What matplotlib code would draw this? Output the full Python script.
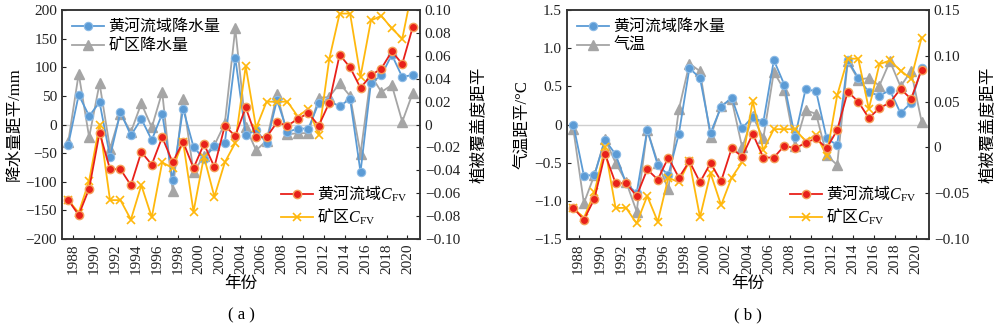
import matplotlib
matplotlib.use("Agg")
import matplotlib.pyplot as plt
import numpy as np
from matplotlib.ticker import FuncFormatter

plt.rcParams["font.family"] = ["Liberation Serif", "Noto Sans CJK SC"]
# mathtext: CJK via \mathrm, C italic serif, FV upright serif via \mathsf
plt.rcParams["mathtext.fontset"] = "custom"
plt.rcParams["mathtext.rm"] = "Noto Sans CJK SC"
plt.rcParams["mathtext.it"] = "Liberation Serif:italic"
plt.rcParams["mathtext.sf"] = "Liberation Serif"

# years (points sit in the middle of each year slot)
years = np.arange(1987, 2021)
year_ticks = np.arange(1988, 2021, 2)

# panel (a), left axis: precipitation anomaly / mm
basin_precip = [-35, 52, 15, 39, -56, 22, -19, 10, -27, 19, -96, 28, -39, -60, -37, -32, 117,
                -18, -10, -32, 43, -13, -7, -7, 38, 41, 32, 45, -83, 73, 86, 122, 83, 87]
mine_precip = [-30, 89, -22, 72, -42, 19, -13, 37, -5, 57, -116, 44, -83, -55, -36, 2, 168,
               -4, -45, -28, 53, -17, -15, -15, 47, 48, 72, 50, -51, 86, 57, 69, 5, 55]

# panel (b), left axis: temperature anomaly / degC
basin_temp = [0.0, -0.67, -0.66, -0.2, -0.39, -0.77, -0.9, -0.07, -0.53, -0.66, -0.12, 0.74, 0.61,
              -0.11, 0.23, 0.355, -0.045, 0.1, 0.03, 0.845, 0.52, -0.16, 0.46, 0.44, -0.18, -0.27,
              0.845, 0.61, 0.425, 0.38, 0.45, 0.15, 0.285, 0.745]
mine_temp = [-0.06, -1.03, -0.66, -0.19, -0.5, -0.75, -1.14, -0.07, -0.5, -0.85, 0.2, 0.8, 0.7,
             -0.16, 0.25, 0.33, -0.3, 0.11, -0.18, 0.69, 0.45, -0.28, 0.19, 0.14, -0.4, -0.53,
             0.83, 0.59, 0.61, 0.51, 0.83, 0.5, 0.7, 0.04]

# right axis (both panels): vegetation cover anomaly
basin_cfv = [-0.066, -0.079, -0.056, -0.007, -0.039, -0.039, -0.053, -0.024, -0.035, -0.011,
             -0.033, -0.015, -0.038, -0.017, -0.037, -0.001, -0.010, 0.015, -0.011, -0.011,
             0.002, -0.001, 0.005, 0.010, -0.001, 0.019, 0.061, 0.050, 0.032, 0.043, 0.049,
             0.064, 0.053, 0.085]
mine_cfv = [-0.066, -0.077, -0.049, 0.000, -0.066, -0.066, -0.083, -0.053, -0.081, -0.033,
            -0.038, -0.015, -0.076, -0.028, -0.063, -0.033, -0.016, 0.051, -0.003, 0.020,
            0.020, 0.020, 0.007, 0.014, -0.009, 0.057, 0.097, 0.097, 0.042, 0.091, 0.095,
            0.084, 0.075, 0.12]

BLUE = "#5b9bd5"
GRAY = "#a5a5a5"
RED = "#e8201a"
YELLOW = "#ffb80d"


def num_fmt(decimals):
    def f(v, pos):
        if abs(v) < 1e-9:
            return "0"
        return f"{v:.{decimals}f}".replace("-", "\u2212")
    return FuncFormatter(f)


def draw_panel(fig, rect, left_a, left_b, labels, ylim, yticks, ydec, ylabel,
               rylim, ryticks, tag):
    ax = fig.add_axes(rect)
    x = years + 0.5
    ax.axhline(0, color="#cfcfcf", lw=1.0, zorder=0)
    ax.plot(x, left_a, color=BLUE, lw=1.3, marker="o", ms=6, mfc=BLUE, mec="#8cbbe6",
            mew=0.8, label=labels[0], zorder=3)
    ax.plot(x, left_b, color=GRAY, lw=1.3, marker="^", ms=6.5, mfc=GRAY, mec=GRAY,
            label=labels[1], zorder=2)
    ax.set_xlim(1986.9, 2021.2)
    ax.set_ylim(*ylim)
    ax.set_yticks(yticks)
    ax.yaxis.set_major_formatter(num_fmt(ydec))
    ax.set_xticks(year_ticks)
    ax.set_xticklabels([str(y) for y in year_ticks], rotation=90)
    ax.set_ylabel(ylabel, fontsize=12, labelpad=2)
    ax.set_xlabel("年份", fontsize=12, labelpad=1)
    ax.tick_params(direction="in", length=3, labelsize=11, colors="#222222")
    ax.legend(loc="upper left", frameon=False, fontsize=11.5, handlelength=2.0,
              handletextpad=0.3, borderaxespad=0.2, labelspacing=0.15)

    ax2 = ax.twinx()
    ax2.plot(x, basin_cfv, color=RED, lw=1.3, marker="o", ms=6, mfc=RED, mec="#f5a05a",
             mew=1.0, label=r"$\mathrm{黄河流域}C_{\mathsf{FV}}$", zorder=3)
    ax2.plot(x, mine_cfv, color=YELLOW, lw=1.3, marker="x", ms=6, mew=1.2,
             label=r"$\mathrm{矿区}C_{\mathsf{FV}}$", zorder=2)
    ax2.set_ylim(*rylim)
    ax2.set_yticks(ryticks)
    ax2.yaxis.set_major_formatter(num_fmt(2))
    ax2.set_ylabel("植被覆盖度距平", fontsize=12, labelpad=8)
    ax2.tick_params(direction="in", length=3, labelsize=11, colors="#222222")
    ax2.legend(loc="lower right", frameon=False, fontsize=11.5, handlelength=2.0,
               handletextpad=0.3, borderaxespad=0.35, labelspacing=0.15)

    for a in (ax, ax2):
        for s in a.spines.values():
            s.set_color("#333333")
            s.set_linewidth(1.1)

    fig.text(rect[0] + rect[2] / 2, 0.035, tag, ha="center", va="center", fontsize=12)
    return ax, ax2


fig = plt.figure(figsize=(10, 3.27), dpi=100)

draw_panel(fig, [0.062, 0.269, 0.358, 0.70], basin_precip, mine_precip,
           ["黄河流域降水量", "矿区降水量"], (-200, 200), np.arange(-200, 201, 50), 0,
           "降水量距平/mm", (-0.10, 0.10), np.arange(-0.10, 0.101, 0.02), "( a )")

draw_panel(fig, [0.567, 0.269, 0.362, 0.70], basin_temp, mine_temp,
           ["黄河流域降水量", "气温"], (-1.5, 1.5), np.arange(-1.5, 1.51, 0.5), 1,
           "气温距平/°C", (-0.10, 0.15), np.arange(-0.10, 0.151, 0.05), "( b )")

fig.savefig("out.png", dpi=100)
